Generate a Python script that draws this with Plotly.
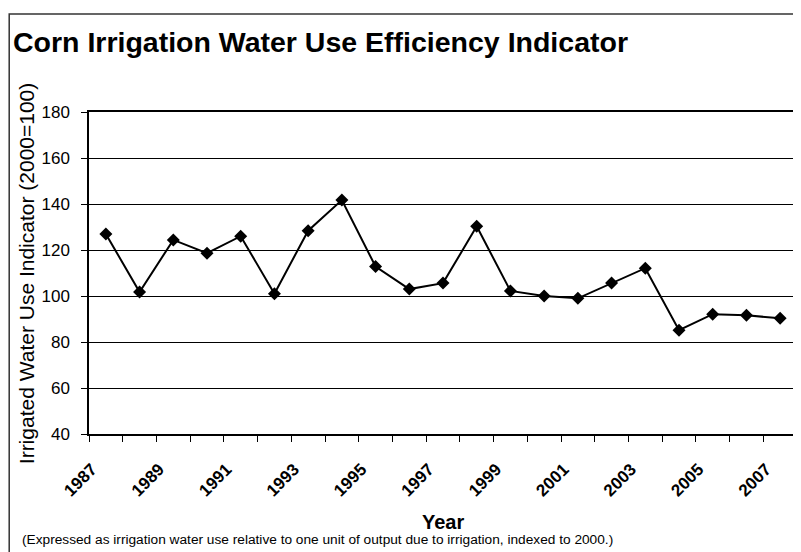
import plotly.graph_objects as go

# Corn irrigation water use efficiency indicator (2000 = 100)
years = list(range(1987, 2008))
indicator = [127, 101.7, 124.4, 118.6, 126, 101, 128.4, 141.7, 112.8, 103,
             105.6, 130.3, 102.2, 100, 99, 105.6, 112.1, 85.1, 92.1, 91.6, 90.3]
label_years = list(range(1987, 2008, 2))

FONT = "Liberation Sans, Arial, sans-serif"

fig = go.Figure()

fig.add_trace(go.Scatter(
    x=years,
    y=indicator,
    mode="lines+markers",
    line=dict(color="black", width=2),
    marker=dict(symbol="diamond", size=10, color="black"),
    showlegend=False,
))

# Outer chart frame (Excel-style chart area border)
fig.add_shape(
    type="rect", xref="paper", yref="paper",
    x0=-0.1127, x1=1.05, y0=-0.5, y1=1.3043,
    line=dict(color="#333333", width=1.5),
)

# Axis titles placed as annotations to match the original spacing
fig.add_annotation(
    text="<b>Year</b>",
    xref="paper", yref="paper", x=0.5, y=-0.273,
    xanchor="center", yanchor="middle", showarrow=False,
    font=dict(size=20, color="black"),
)
fig.add_annotation(
    text="Irrigated Water Use Indicator (2000=100)",
    xref="paper", yref="paper", x=-0.0887, y=0.5,
    xanchor="center", yanchor="middle", textangle=-90, showarrow=False,
    font=dict(size=21, color="black"),
)

# Footnote under the axis title
fig.add_annotation(
    text="(Expressed as irrigation water use relative to one unit of output due to irrigation, indexed to 2000.)",
    xref="paper", yref="paper",
    x=-0.0972, y=-0.329,
    xanchor="left", yanchor="middle",
    showarrow=False,
    font=dict(size=13.7, color="black"),
)

# page body adds an 8px margin, so the figure is 8px smaller than the window
fig.update_layout(
    width=793,
    height=544,
    paper_bgcolor="white",
    plot_bgcolor="white",
    font=dict(family=FONT, color="black"),
    title=dict(
        text="<b>Corn Irrigation Water Use Efficiency Indicator</b>",
        xref="container", yref="container",
        x=5 / 793, y=1 - 34 / 544,
        xanchor="left", yanchor="middle",
        font=dict(size=28.5, color="black"),
    ),
    margin=dict(l=81, r=2, t=104, b=118),
)

fig.update_xaxes(
    range=[1986.5, 2007.5],
    tickvals=label_years,
    ticktext=[str(y) for y in label_years],
    tickangle=-45,
    tickfont=dict(size=17, color="black", family=FONT, weight="bold"),
    ticks="outside", ticklen=0,
    ticklabelstandoff=17, ticklabelshift=-14,
    minor=dict(ticks="outside", ticklen=6, tick0=1986.5, dtick=1,
               tickcolor="black", showgrid=False),
    showgrid=False,
    showline=True, linecolor="black", linewidth=1.5, mirror=True,
    zeroline=False,
)

fig.update_yaxes(
    range=[40, 180],
    dtick=20,
    tickfont=dict(size=17, color="black"),
    ticks="outside", ticklen=6, tickcolor="black",
    ticklabelstandoff=8,
    showgrid=True, gridcolor="black", gridwidth=1,
    showline=True, linecolor="black", linewidth=1.5, mirror=True,
    zeroline=False,
)

fig.write_html("out.html")
